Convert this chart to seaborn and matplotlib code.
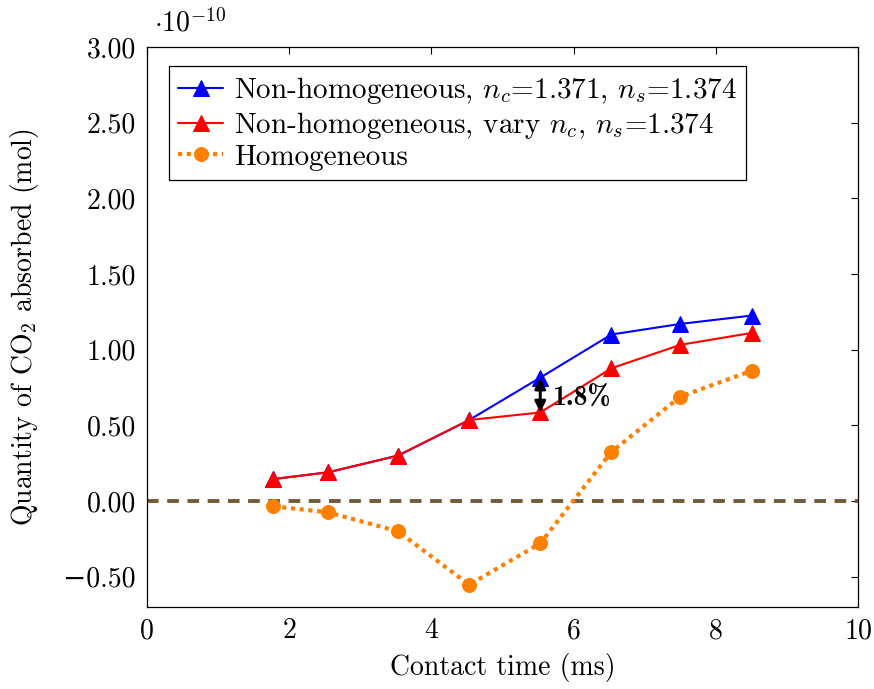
import matplotlib
matplotlib.use("Agg")
import matplotlib.pyplot as plt
import seaborn as sns
import pandas as pd
import numpy as np

# Data (values in units of 1e-10 mol)
contact_time = [1.78, 2.55, 3.53, 4.53, 5.53, 6.53, 7.50, 8.50]
non_homog_fixed = [0.145, 0.19, 0.30, 0.535, 0.815, 1.10, 1.17, 1.225]
non_homog_vary = [0.145, 0.19, 0.30, 0.535, 0.585, 0.877, 1.032, 1.11]
homogeneous = [-0.035, -0.075, -0.20, -0.553, -0.28, 0.325, 0.69, 0.86]
x_ticks = [0, 2, 4, 6, 8, 10]
y_ticks = [-0.5, 0.0, 0.5, 1.0, 1.5, 2.0, 2.5, 3.0]
annot_x = 5.53
annot_text = "1.8%"

FS = 20

sns.set_theme(style="white")
plt.rcParams["font.family"] = ["cmr10", "DejaVu Serif"]
plt.rcParams["mathtext.fontset"] = "cm"
plt.rcParams["axes.formatter.use_mathtext"] = True
plt.rcParams["axes.unicode_minus"] = True
for k in ["text.color", "axes.labelcolor", "xtick.color", "ytick.color", "axes.edgecolor"]:
    plt.rcParams[k] = "black"

fig = plt.figure(figsize=(8.74, 6.89), dpi=100)
ax = fig.add_axes([0.168, 0.119, 0.814, 0.813])

df = pd.DataFrame({"t": contact_time, "a": non_homog_fixed, "b": non_homog_vary, "c": homogeneous})

ax.axhline(0, color="#735a38", lw=2.8, ls=(0, (3, 2.2)), zorder=1)

sns.lineplot(data=df, x="t", y="a", ax=ax, color="blue", lw=1.5, marker="^", markersize=11,
             markeredgecolor="blue", label=r"Non-homogeneous, $n_c$=1.371, $n_s$=1.374", zorder=3)
sns.lineplot(data=df, x="t", y="b", ax=ax, color="red", lw=1.5, marker="^", markersize=11,
             markeredgecolor="red", label=r"Non-homogeneous, vary $n_c$, $n_s$=1.374", zorder=4)
sns.lineplot(data=df, x="t", y="c", ax=ax, color="#ff8000", lw=3.0, ls=(0, (1, 1.1)), marker="o",
             markersize=10, markeredgecolor="#ff8000", label="Homogeneous", zorder=3)

i = contact_time.index(annot_x)
ax.annotate("", xy=(annot_x, non_homog_vary[i]), xytext=(annot_x, non_homog_fixed[i]),
            arrowprops=dict(arrowstyle="<|-|>", color="black", lw=2.2, mutation_scale=16,
                            shrinkA=0, shrinkB=0), zorder=6)
ax.text(annot_x + 0.17, (non_homog_fixed[i] + non_homog_vary[i]) / 2 - 0.02, annot_text,
        fontsize=FS, va="center", ha="left", zorder=6, color="black",
        family=["cmb10", "DejaVu Serif"])

ax.set_xlim(0, 10)
ax.set_ylim(-0.7, 3.0)
ax.set_xticks(x_ticks)
ax.set_xticklabels([str(v) for v in x_ticks])
ax.set_yticks(y_ticks)
ax.set_yticklabels([("\u2212" if v < 0 else "") + f"{abs(v):.2f}" for v in y_ticks])
ax.tick_params(direction="in", length=5, width=0.8, labelsize=FS, top=True, right=True,
               colors="black", labelcolor="black", pad=8)
for s in ax.spines.values():
    s.set_color("black")
    s.set_linewidth(0.9)

ax.set_xlabel("Contact time (ms)", fontsize=FS, labelpad=6, color="black")
ax.set_ylabel(r"Quantity of CO$_2$ absorbed (mol)", fontsize=FS, labelpad=16, color="black")
fig.text(0.176, 0.966, r"$\cdot10^{-10}$", fontsize=FS, ha="left", va="center", color="black")

leg = ax.legend(loc="upper left", bbox_to_anchor=(0.031, 0.966), fontsize=21, frameon=True,
                fancybox=False, edgecolor="black", framealpha=1, borderpad=0.32,
                handlelength=1.55, handletextpad=0.35, labelspacing=0.12, borderaxespad=0)
leg.get_frame().set_linewidth(0.9)
for t in leg.get_texts():
    t.set_color("black")

fig.savefig("out.png", dpi=100)
